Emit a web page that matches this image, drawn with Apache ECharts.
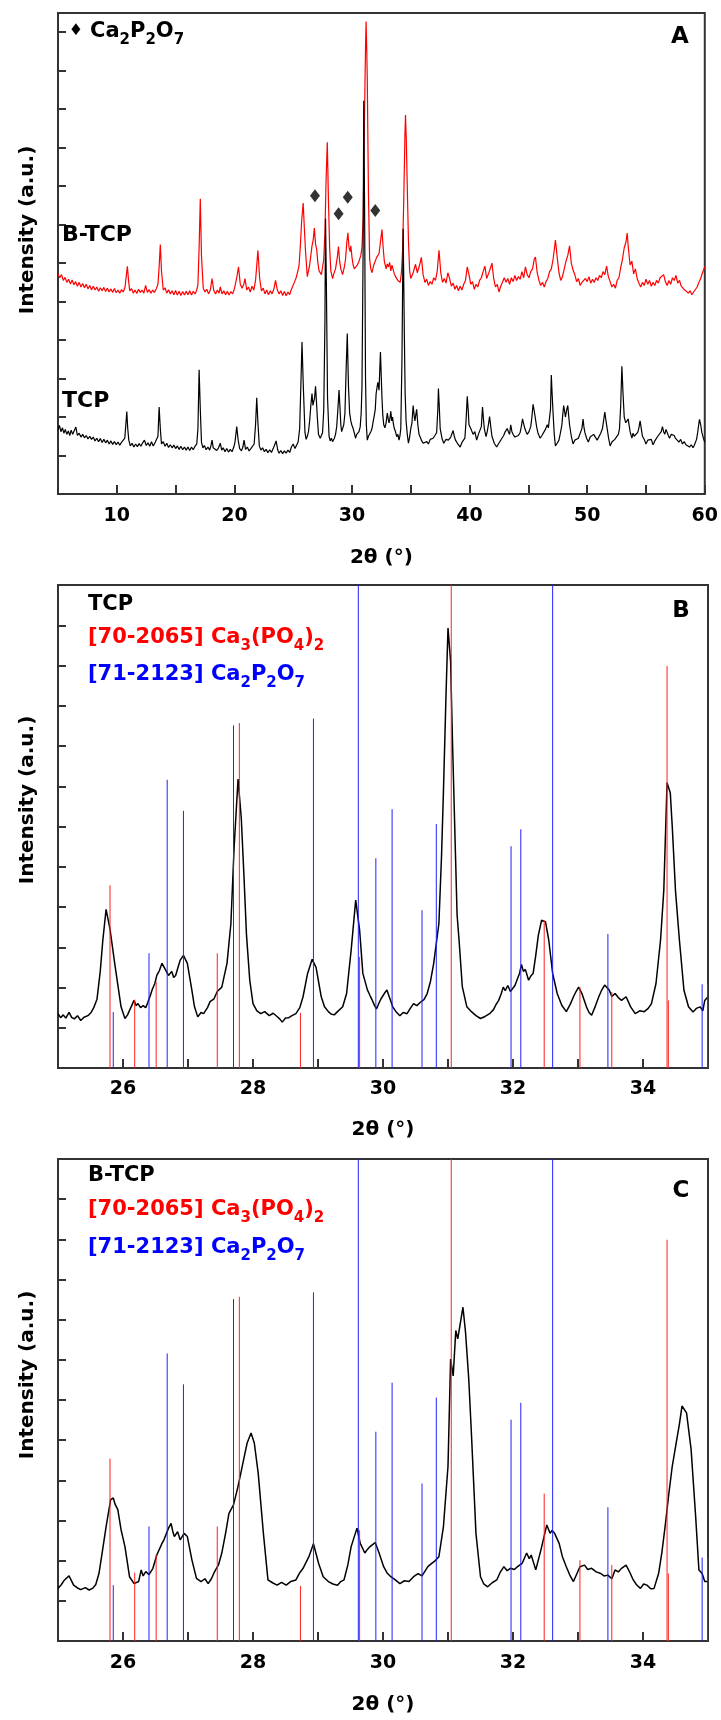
<!DOCTYPE html>
<html><head><meta charset="utf-8">
<script src="https://cdn.jsdelivr.net/npm/echarts@6/dist/echarts.min.js"></script>
<style>html,body{margin:0;padding:0;background:#fff}#c{width:721px;height:1720px}</style>
</head><body><div id="c"></div>
<script>
// ---------- DATA ----------
// Panel A: full patterns (2θ, intensity in axis units; B-TCP is offset upward)
const patternA_BTCP = [[5.0,5.72],[5.15,5.62],[5.3,5.70],[5.45,5.55],[5.6,5.63],[5.75,5.50],[5.9,5.58],[6.05,5.46],[6.2,5.56],[6.35,5.44],[6.5,5.52],[6.65,5.40],[6.8,5.50],[6.95,5.38],[7.1,5.47],[7.25,5.36],[7.4,5.45],[7.55,5.33],[7.7,5.42],[7.85,5.31],[8.0,5.40],[8.15,5.30],[8.3,5.38],[8.45,5.27],[8.6,5.36],[8.75,5.28],[8.9,5.37],[9.05,5.26],[9.2,5.35],[9.35,5.25],[9.5,5.33],[9.65,5.24],[9.8,5.34],[9.95,5.23],[10.1,5.30],[10.25,5.22],[10.4,5.31],[10.55,5.25],[10.7,5.38],[10.8,5.65],[10.9,5.92],[11.0,5.55],[11.1,5.28],[11.25,5.34],[11.4,5.22],[11.55,5.30],[11.7,5.21],[11.85,5.32],[12.0,5.24],[12.15,5.30],[12.3,5.22],[12.45,5.42],[12.6,5.24],[12.75,5.31],[12.9,5.22],[13.05,5.30],[13.2,5.24],[13.35,5.33],[13.5,5.45],[13.6,5.90],[13.7,6.48],[13.8,5.80],[13.95,5.30],[14.1,5.36],[14.25,5.22],[14.4,5.31],[14.55,5.20],[14.7,5.28],[14.85,5.18],[15.0,5.29],[15.15,5.17],[15.3,5.27],[15.45,5.16],[15.6,5.26],[15.75,5.17],[15.9,5.27],[16.05,5.18],[16.2,5.28],[16.35,5.17],[16.5,5.27],[16.65,5.20],[16.8,5.30],[16.9,5.45],[17.0,6.40],[17.1,7.67],[17.2,6.20],[17.35,5.35],[17.5,5.25],[17.65,5.32],[17.8,5.20],[17.95,5.30],[18.1,5.60],[18.25,5.28],[18.4,5.20],[18.55,5.30],[18.7,5.22],[18.8,5.38],[18.95,5.20],[19.1,5.28],[19.25,5.18],[19.4,5.27],[19.55,5.17],[19.7,5.26],[19.85,5.20],[20.0,5.33],[20.2,5.62],[20.35,5.90],[20.5,5.45],[20.65,5.35],[20.8,5.45],[20.9,5.60],[21.05,5.30],[21.2,5.38],[21.35,5.25],[21.5,5.40],[21.65,5.30],[21.8,5.55],[22.0,6.33],[22.15,5.60],[22.3,5.28],[22.45,5.35],[22.6,5.20],[22.75,5.30],[22.9,5.18],[23.05,5.28],[23.2,5.20],[23.35,5.32],[23.5,5.55],[23.65,5.30],[23.8,5.20],[23.95,5.28],[24.1,5.16],[24.25,5.26],[24.4,5.15],[24.55,5.25],[24.7,5.18],[24.85,5.32],[25.0,5.28],[25.1,5.50],[25.25,5.62],[25.4,5.80],[25.5,5.95],[25.6,6.40],[25.72,7.10],[25.85,7.56],[25.95,6.90],[26.05,6.30],[26.2,5.65],[26.3,5.80],[26.4,5.95],[26.5,6.20],[26.6,6.45],[26.7,6.60],[26.8,6.91],[26.9,6.50],[27.0,6.35],[27.1,6.00],[27.2,5.80],[27.3,5.85],[27.4,5.70],[27.5,5.90],[27.6,6.10],[27.7,6.80],[27.8,8.20],[27.9,9.14],[28.0,7.60],[28.1,6.40],[28.2,5.80],[28.35,5.60],[28.45,5.72],[28.6,5.85],[28.75,6.15],[28.85,6.43],[28.95,6.05],[29.05,5.85],[29.2,5.70],[29.35,5.90],[29.45,6.10],[29.55,6.50],[29.65,6.79],[29.75,6.40],[29.85,6.30],[29.9,6.45],[30.0,6.15],[30.1,5.95],[30.2,5.85],[30.3,5.80],[30.45,5.95],[30.6,6.05],[30.75,6.20],[30.85,6.40],[30.95,7.20],[31.05,9.50],[31.15,11.6],[31.2,12.28],[31.25,11.6],[31.3,10.8],[31.4,7.80],[31.5,6.10],[31.6,5.85],[31.7,5.75],[31.85,5.95],[31.95,6.00],[32.1,6.15],[32.2,6.10],[32.3,6.25],[32.4,6.30],[32.55,6.87],[32.65,6.40],[32.75,6.05],[32.9,5.85],[33.0,5.98],[33.1,5.90],[33.2,6.02],[33.3,5.80],[33.4,5.95],[33.5,5.90],[33.6,5.72],[33.7,5.65],[33.8,5.70],[33.9,5.55],[34.0,5.60],[34.1,5.50],[34.2,5.75],[34.3,6.30],[34.4,7.60],[34.5,9.30],[34.55,9.85],[34.62,9.20],[34.7,8.00],[34.8,6.60],[34.9,5.80],[35.0,5.60],[35.2,5.75],[35.4,5.97],[35.55,5.75],[35.75,5.95],[35.9,6.15],[36.05,5.70],[36.2,5.50],[36.35,5.58],[36.5,5.42],[36.65,5.52],[36.8,5.45],[36.95,5.62],[37.1,5.55],[37.25,5.80],[37.4,6.33],[37.55,5.75],[37.7,5.50],[37.85,5.60],[38.0,5.48],[38.15,5.75],[38.3,5.60],[38.45,5.40],[38.6,5.48],[38.75,5.32],[38.9,5.42],[39.05,5.28],[39.2,5.40],[39.35,5.30],[39.5,5.45],[39.65,5.55],[39.8,5.90],[39.95,5.70],[40.1,5.45],[40.25,5.52],[40.4,5.32],[40.55,5.45],[40.7,5.38],[40.85,5.55],[41.0,5.62],[41.15,5.78],[41.3,5.92],[41.45,5.60],[41.6,5.72],[41.75,5.85],[41.9,6.00],[42.05,5.60],[42.2,5.38],[42.35,5.45],[42.5,5.25],[42.65,5.40],[42.8,5.35],[42.95,5.62],[43.1,5.50],[43.25,5.60],[43.4,5.45],[43.55,5.62],[43.7,5.52],[43.85,5.68],[44.0,5.55],[44.15,5.65],[44.3,5.58],[44.45,5.78],[44.6,5.62],[44.75,5.90],[44.9,5.70],[45.05,5.62],[45.2,5.78],[45.35,5.85],[45.5,6.10],[45.6,6.16],[45.75,5.75],[45.9,5.55],[46.05,5.42],[46.2,5.50],[46.35,5.38],[46.5,5.52],[46.65,5.60],[46.8,5.78],[46.95,5.85],[47.1,6.10],[47.3,6.60],[47.45,6.15],[47.6,5.75],[47.75,5.55],[47.9,5.65],[48.05,5.85],[48.2,6.05],[48.35,6.20],[48.5,6.45],[48.65,6.00],[48.8,5.82],[48.95,5.70],[49.1,5.52],[49.25,5.60],[49.4,5.42],[49.55,5.50],[49.7,5.45],[49.85,5.60],[50.0,5.52],[50.15,5.65],[50.3,5.48],[50.45,5.58],[50.6,5.50],[50.75,5.62],[50.9,5.55],[51.05,5.68],[51.2,5.62],[51.35,5.78],[51.5,5.70],[51.65,5.92],[51.8,5.65],[51.95,5.52],[52.1,5.38],[52.25,5.45],[52.4,5.35],[52.55,5.55],[52.7,5.62],[52.85,5.88],[53.0,6.10],[53.15,6.40],[53.3,6.55],[53.4,6.78],[53.5,6.40],[53.65,5.95],[53.8,6.05],[53.95,5.72],[54.1,5.85],[54.25,5.60],[54.4,5.48],[54.55,5.38],[54.7,5.50],[54.85,5.42],[55.0,5.58],[55.15,5.45],[55.3,5.55],[55.45,5.40],[55.6,5.50],[55.75,5.42],[55.9,5.55],[56.05,5.48],[56.2,5.62],[56.35,5.58],[56.5,5.70],[56.65,5.52],[56.8,5.42],[56.95,5.55],[57.1,5.45],[57.25,5.62],[57.4,5.55],[57.55,5.68],[57.7,5.48],[57.85,5.55],[58.0,5.40],[58.15,5.45],[58.3,5.30],[58.45,5.35],[58.6,5.22],[58.75,5.28],[58.9,5.18],[59.05,5.25],[59.2,5.30],[59.35,5.38],[59.5,5.50],[59.65,5.60],[59.8,5.75],[60.0,5.90]];
const patternA_TCP = [[5.0,1.66],[5.12,1.78],[5.25,1.62],[5.38,1.72],[5.5,1.58],[5.62,1.68],[5.75,1.55],[5.88,1.64],[6.0,1.52],[6.12,1.66],[6.25,1.55],[6.4,1.60],[6.52,1.74],[6.65,1.52],[6.8,1.58],[6.95,1.48],[7.1,1.55],[7.25,1.46],[7.4,1.52],[7.55,1.43],[7.7,1.50],[7.85,1.42],[8.0,1.48],[8.15,1.38],[8.3,1.45],[8.45,1.36],[8.6,1.44],[8.75,1.34],[8.9,1.42],[9.05,1.33],[9.2,1.40],[9.35,1.30],[9.5,1.38],[9.65,1.29],[9.8,1.36],[9.95,1.28],[10.1,1.35],[10.25,1.27],[10.4,1.34],[10.55,1.30],[10.68,1.45],[10.78,1.85],[10.85,2.14],[10.93,1.70],[11.02,1.40],[11.15,1.25],[11.3,1.32],[11.45,1.22],[11.6,1.30],[11.75,1.23],[11.9,1.31],[12.05,1.24],[12.2,1.33],[12.35,1.40],[12.5,1.26],[12.65,1.33],[12.8,1.24],[12.95,1.36],[13.1,1.25],[13.25,1.33],[13.4,1.28],[13.5,1.50],[13.6,2.26],[13.7,1.70],[13.8,1.30],[13.95,1.36],[14.1,1.24],[14.25,1.32],[14.4,1.21],[14.55,1.28],[14.7,1.20],[14.85,1.27],[15.0,1.18],[15.15,1.25],[15.3,1.16],[15.45,1.24],[15.6,1.15],[15.75,1.22],[15.9,1.14],[16.05,1.22],[16.2,1.13],[16.35,1.22],[16.5,1.15],[16.65,1.24],[16.8,1.30],[16.9,1.70],[17.0,3.23],[17.1,2.20],[17.2,1.35],[17.32,1.20],[17.45,1.26],[17.6,1.15],[17.75,1.22],[17.9,1.14],[18.0,1.25],[18.1,1.40],[18.2,1.20],[18.35,1.25],[18.5,1.13],[18.65,1.20],[18.8,1.32],[18.92,1.14],[19.05,1.20],[19.2,1.10],[19.35,1.18],[19.5,1.09],[19.65,1.16],[19.8,1.10],[19.95,1.22],[20.05,1.35],[20.2,1.75],[20.32,1.40],[20.45,1.18],[20.6,1.12],[20.72,1.22],[20.82,1.40],[20.95,1.16],[21.1,1.22],[21.25,1.12],[21.4,1.18],[21.55,1.14],[21.68,1.30],[21.8,1.80],[21.9,2.50],[22.0,1.85],[22.12,1.25],[22.25,1.14],[22.4,1.20],[22.55,1.10],[22.7,1.16],[22.85,1.07],[23.0,1.15],[23.15,1.08],[23.3,1.18],[23.45,1.30],[23.55,1.38],[23.68,1.15],[23.8,1.06],[23.95,1.13],[24.1,1.05],[24.25,1.12],[24.4,1.06],[24.55,1.14],[24.7,1.08],[24.85,1.22],[25.0,1.30],[25.15,1.18],[25.3,1.22],[25.42,1.35],[25.55,1.70],[25.65,2.80],[25.75,3.95],[25.85,2.90],[26.0,1.60],[26.1,1.42],[26.2,1.50],[26.3,1.62],[26.4,1.90],[26.5,2.30],[26.6,2.61],[26.68,2.30],[26.75,2.35],[26.82,2.50],[26.9,2.80],[26.97,2.45],[27.05,2.00],[27.15,1.55],[27.3,1.45],[27.4,1.52],[27.5,1.60],[27.6,2.20],[27.7,4.50],[27.75,7.15],[27.82,5.50],[27.92,2.50],[28.05,1.50],[28.15,1.38],[28.25,1.45],[28.35,1.36],[28.5,1.45],[28.6,1.55],[28.7,1.75],[28.8,2.20],[28.9,2.70],[28.97,2.30],[29.05,1.80],[29.12,1.62],[29.2,1.70],[29.3,1.80],[29.4,2.10],[29.5,3.20],[29.6,4.17],[29.7,2.80],[29.8,2.10],[29.9,1.90],[30.0,1.78],[30.1,1.70],[30.2,1.58],[30.3,1.45],[30.4,1.55],[30.5,1.50],[30.6,1.62],[30.7,1.75],[30.78,2.10],[30.85,2.80],[30.95,6.50],[31.0,10.22],[31.07,7.50],[31.15,3.00],[31.22,1.80],[31.3,1.40],[31.4,1.50],[31.5,1.55],[31.6,1.62],[31.7,1.70],[31.8,1.88],[31.9,2.05],[31.98,2.20],[32.05,2.60],[32.12,2.75],[32.2,2.90],[32.3,2.70],[32.42,3.69],[32.55,2.50],[32.62,2.05],[32.7,1.80],[32.8,1.72],[32.9,1.85],[33.0,2.10],[33.08,1.95],[33.15,1.85],[33.22,1.95],[33.3,2.15],[33.38,1.90],[33.45,2.00],[33.52,1.82],[33.6,1.70],[33.7,1.62],[33.8,1.49],[33.9,1.55],[34.0,1.40],[34.08,1.52],[34.15,1.70],[34.25,3.50],[34.35,6.89],[34.45,4.20],[34.52,2.60],[34.6,1.90],[34.7,1.55],[34.8,1.32],[34.9,1.48],[35.0,1.70],[35.1,1.85],[35.2,2.30],[35.28,2.05],[35.35,1.90],[35.42,2.05],[35.5,2.20],[35.6,1.80],[35.7,1.55],[35.8,1.48],[35.9,1.40],[36.05,1.32],[36.2,1.28],[36.35,1.36],[36.5,1.30],[36.65,1.42],[36.8,1.38],[36.9,1.45],[37.05,1.52],[37.2,1.60],[37.3,2.20],[37.35,2.74],[37.42,2.30],[37.5,1.70],[37.65,1.45],[37.8,1.32],[38.0,1.42],[38.2,1.40],[38.4,1.48],[38.6,1.65],[38.7,1.50],[38.8,1.40],[39.0,1.30],[39.2,1.22],[39.35,1.34],[39.5,1.30],[39.6,1.45],[39.7,1.90],[39.8,2.54],[39.88,2.20],[39.95,1.80],[40.1,1.70],[40.3,1.55],[40.45,1.62],[40.6,1.40],[40.75,1.55],[40.9,1.50],[41.0,1.75],[41.1,2.26],[41.18,1.95],[41.25,1.70],[41.4,1.49],[41.5,1.62],[41.6,1.80],[41.7,2.01],[41.8,1.75],[41.9,1.50],[42.1,1.32],[42.3,1.22],[42.45,1.30],[42.6,1.35],[42.75,1.45],[42.9,1.52],[43.0,1.60],[43.1,1.55],[43.2,1.70],[43.3,1.62],[43.4,1.55],[43.5,1.80],[43.6,1.62],[43.7,1.55],[43.85,1.48],[44.0,1.45],[44.15,1.52],[44.3,1.60],[44.4,1.75],[44.5,1.95],[44.6,1.82],[44.7,1.70],[44.8,1.62],[44.9,1.55],[45.05,1.62],[45.2,1.75],[45.3,2.00],[45.4,2.33],[45.5,2.15],[45.6,1.95],[45.7,1.75],[45.8,1.60],[45.9,1.52],[46.0,1.45],[46.15,1.52],[46.3,1.55],[46.45,1.68],[46.6,1.80],[46.7,1.72],[46.8,1.70],[46.88,2.20],[46.95,3.09],[47.02,2.60],[47.1,2.10],[47.2,1.55],[47.3,1.25],[47.45,1.32],[47.6,1.40],[47.72,1.58],[47.85,1.80],[47.92,2.05],[48.0,2.30],[48.08,2.15],[48.15,2.00],[48.25,2.18],[48.35,2.30],[48.42,2.05],[48.5,1.80],[48.65,1.50],[48.8,1.30],[48.95,1.40],[49.1,1.35],[49.25,1.45],[49.4,1.50],[49.55,1.70],[49.65,1.95],[49.72,1.75],[49.8,1.60],[49.95,1.45],[50.1,1.35],[50.25,1.48],[50.4,1.45],[50.55,1.55],[50.7,1.50],[50.85,1.40],[51.0,1.45],[51.15,1.58],[51.3,1.70],[51.4,1.92],[51.5,2.13],[51.6,1.90],[51.7,1.70],[51.82,1.45],[51.95,1.25],[52.1,1.35],[52.2,1.30],[52.35,1.42],[52.5,1.40],[52.65,1.55],[52.75,1.70],[52.85,2.30],[52.95,3.32],[53.05,2.60],[53.15,2.00],[53.28,1.85],[53.4,1.80],[53.48,1.95],[53.55,1.92],[53.65,1.62],[53.8,1.45],[53.9,1.58],[54.0,1.50],[54.15,1.55],[54.3,1.60],[54.4,1.72],[54.5,1.90],[54.6,1.70],[54.7,1.50],[54.85,1.42],[55.0,1.30],[55.15,1.40],[55.3,1.35],[55.45,1.42],[55.6,1.28],[55.75,1.38],[55.9,1.40],[56.05,1.52],[56.2,1.55],[56.3,1.62],[56.4,1.75],[56.5,1.62],[56.6,1.55],[56.7,1.68],[56.8,1.65],[56.9,1.52],[57.0,1.45],[57.15,1.55],[57.3,1.60],[57.4,1.52],[57.5,1.45],[57.65,1.40],[57.8,1.35],[57.95,1.42],[58.1,1.30],[58.25,1.36],[58.4,1.28],[58.55,1.33],[58.7,1.22],[58.85,1.28],[59.0,1.20],[59.1,1.26],[59.2,1.30],[59.3,1.42],[59.4,1.60],[59.48,1.80],[59.55,1.94],[59.65,1.80],[59.75,1.60],[59.88,1.45],[60.0,1.35]];
// Ca2P2O7 markers in panel A
const diamondMarks = [[26.85,7.75],[28.86,7.28],[29.64,7.71],[31.98,7.37]];

// Panel B: TCP, 25-35°
const patternB_TCP = [[25.0,1.35],[25.04,1.25],[25.08,1.32],[25.12,1.24],[25.17,1.38],[25.21,1.26],[25.25,1.22],[25.3,1.30],[25.35,1.18],[25.4,1.26],[25.46,1.30],[25.51,1.38],[25.55,1.50],[25.6,1.71],[25.65,2.40],[25.69,3.18],[25.74,3.94],[25.8,3.45],[25.88,2.51],[25.97,1.52],[26.03,1.23],[26.07,1.32],[26.1,1.28],[26.17,1.68],[26.2,1.55],[26.23,1.60],[26.27,1.50],[26.31,1.55],[26.35,1.50],[26.38,1.62],[26.42,1.80],[26.45,1.95],[26.49,2.10],[26.52,2.30],[26.56,2.42],[26.6,2.60],[26.65,2.45],[26.7,2.30],[26.75,2.40],[26.78,2.25],[26.81,2.30],[26.85,2.52],[26.88,2.68],[26.93,2.80],[26.99,2.60],[27.06,1.93],[27.1,1.52],[27.15,1.27],[27.2,1.38],[27.24,1.35],[27.3,1.50],[27.34,1.65],[27.4,1.72],[27.45,1.90],[27.52,2.01],[27.6,2.60],[27.66,3.59],[27.71,5.50],[27.77,7.18],[27.82,6.20],[27.86,4.80],[27.9,3.30],[27.95,2.18],[28.0,1.60],[28.06,1.42],[28.12,1.35],[28.18,1.40],[28.25,1.30],[28.31,1.36],[28.37,1.28],[28.41,1.22],[28.45,1.14],[28.5,1.24],[28.55,1.25],[28.6,1.30],[28.66,1.35],[28.72,1.50],[28.77,1.77],[28.84,2.35],[28.91,2.70],[28.97,2.50],[29.05,1.77],[29.1,1.52],[29.16,1.40],[29.2,1.34],[29.25,1.32],[29.3,1.40],[29.33,1.36],[29.38,1.52],[29.44,1.85],[29.51,2.93],[29.58,4.17],[29.64,3.43],[29.69,2.35],[29.76,1.94],[29.8,1.80],[29.83,1.70],[29.87,1.55],[29.9,1.47],[29.94,1.62],[29.97,1.72],[30.02,1.85],[30.06,1.94],[30.1,1.75],[30.15,1.52],[30.2,1.40],[30.26,1.30],[30.31,1.38],[30.37,1.35],[30.42,1.48],[30.47,1.60],[30.52,1.55],[30.58,1.64],[30.63,1.70],[30.68,1.85],[30.73,2.15],[30.78,2.60],[30.86,3.59],[30.9,5.25],[30.93,6.87],[30.97,9.30],[31.0,10.93],[31.04,10.10],[31.07,8.06],[31.11,5.60],[31.14,3.80],[31.17,3.18],[31.22,2.02],[31.29,1.52],[31.36,1.40],[31.43,1.30],[31.5,1.23],[31.57,1.28],[31.64,1.35],[31.7,1.45],[31.74,1.58],[31.78,1.68],[31.82,1.85],[31.85,2.01],[31.88,1.92],[31.92,2.05],[31.96,1.90],[31.99,1.93],[32.03,2.05],[32.06,2.18],[32.1,2.35],[32.13,2.57],[32.16,2.40],[32.19,2.45],[32.24,2.18],[32.28,2.30],[32.31,2.35],[32.35,2.80],[32.39,3.30],[32.44,3.67],[32.5,3.63],[32.55,3.18],[32.61,2.35],[32.68,1.85],[32.75,1.56],[32.82,1.40],[32.88,1.58],[32.93,1.77],[32.97,1.90],[33.01,2.01],[33.06,1.85],[33.13,1.52],[33.17,1.38],[33.21,1.31],[33.27,1.55],[33.32,1.77],[33.36,1.92],[33.41,2.06],[33.48,1.94],[33.52,1.78],[33.57,1.85],[33.62,1.75],[33.67,1.68],[33.74,1.77],[33.81,1.52],[33.88,1.35],[33.95,1.42],[34.02,1.40],[34.08,1.48],[34.13,1.60],[34.2,2.10],[34.27,3.18],[34.32,4.42],[34.37,7.09],[34.42,6.83],[34.45,6.00],[34.5,4.40],[34.56,3.18],[34.63,1.93],[34.7,1.52],[34.77,1.39],[34.82,1.48],[34.88,1.52],[34.92,1.42],[34.95,1.68],[35.0,1.77]];
// Panel C: B-TCP, 25-35°
const patternC_BTCP = [[25.0,1.31],[25.05,1.40],[25.1,1.52],[25.17,1.62],[25.24,1.39],[25.3,1.32],[25.35,1.28],[25.42,1.33],[25.48,1.27],[25.53,1.31],[25.58,1.40],[25.63,1.68],[25.68,2.20],[25.74,2.85],[25.81,3.52],[25.85,3.56],[25.88,3.40],[25.92,3.27],[25.97,2.77],[26.03,2.35],[26.1,1.60],[26.17,1.43],[26.24,1.48],[26.28,1.77],[26.31,1.62],[26.35,1.73],[26.4,1.65],[26.46,1.81],[26.52,2.14],[26.6,2.43],[26.63,2.52],[26.7,2.81],[26.74,2.93],[26.77,2.70],[26.79,2.60],[26.84,2.72],[26.88,2.52],[26.94,2.68],[26.99,2.60],[27.06,2.02],[27.13,1.56],[27.2,1.48],[27.26,1.55],[27.31,1.43],[27.36,1.55],[27.41,1.73],[27.47,1.90],[27.52,2.19],[27.58,2.70],[27.63,3.18],[27.7,3.39],[27.77,3.85],[27.84,4.39],[27.88,4.70],[27.91,4.93],[27.97,5.18],[28.02,4.93],[28.08,4.18],[28.16,2.68],[28.23,1.52],[28.3,1.45],[28.37,1.39],[28.44,1.46],[28.51,1.39],[28.58,1.48],[28.66,1.52],[28.72,1.70],[28.77,1.81],[28.86,2.10],[28.93,2.42],[29.01,1.93],[29.08,1.60],[29.16,1.48],[29.23,1.42],[29.3,1.39],[29.35,1.48],[29.4,1.52],[29.46,1.90],[29.51,2.35],[29.6,2.81],[29.65,2.43],[29.72,2.19],[29.76,2.28],[29.8,2.35],[29.88,2.45],[29.94,2.19],[30.01,1.85],[30.06,1.70],[30.12,1.60],[30.19,1.52],[30.26,1.43],[30.33,1.50],[30.4,1.48],[30.47,1.60],[30.54,1.68],[30.6,1.62],[30.69,1.85],[30.74,1.92],[30.79,1.98],[30.86,2.10],[30.93,2.85],[31.0,4.35],[31.04,7.02],[31.08,6.60],[31.12,7.73],[31.15,7.52],[31.23,8.31],[31.27,7.68],[31.32,6.50],[31.36,5.18],[31.43,2.68],[31.5,1.60],[31.55,1.42],[31.61,1.35],[31.68,1.45],[31.75,1.52],[31.8,1.70],[31.86,1.85],[31.91,1.75],[31.96,1.81],[32.02,1.78],[32.07,1.85],[32.14,1.93],[32.21,2.19],[32.25,2.05],[32.28,2.14],[32.35,1.77],[32.43,2.27],[32.52,2.89],[32.57,2.68],[32.6,2.75],[32.64,2.68],[32.71,2.43],[32.76,2.10],[32.82,1.85],[32.88,1.62],[32.93,1.48],[33.03,1.85],[33.1,1.89],[33.15,1.78],[33.21,1.81],[33.28,1.72],[33.35,1.68],[33.4,1.62],[33.46,1.64],[33.52,1.55],[33.57,1.77],[33.62,1.72],[33.67,1.81],[33.74,1.89],[33.8,1.70],[33.85,1.52],[33.9,1.40],[33.96,1.31],[34.01,1.42],[34.06,1.39],[34.12,1.30],[34.17,1.31],[34.24,1.68],[34.29,2.20],[34.34,2.85],[34.4,3.70],[34.45,4.35],[34.52,5.02],[34.56,5.40],[34.6,5.85],[34.67,5.68],[34.74,4.77],[34.81,3.10],[34.86,1.77],[34.91,1.68],[34.95,1.48],[35.0,1.48]];
// Reference sticks (2θ, relative height in axis units)
const refCa3PO42 = [[25.80,4.54],[26.18,1.70],[26.51,2.14],[27.45,2.85],[27.79,8.57],[28.73,1.37],[29.64,2.76],[31.05,12],[32.48,3.67],[33.03,2.01],[33.52,1.89],[34.37,9.99],[34.39,1.68],[35.0,2.08]];
const refCa2P2O7 = [[25.85,1.39],[26.40,2.85],[26.68,7.16],[26.93,6.39],[27.70,8.51],[28.93,8.68],[29.62,12],[29.89,5.21],[30.14,6.43],[30.60,3.92],[30.82,6.06],[31.97,5.51],[32.12,5.93],[32.61,12],[33.46,3.33],[34.91,2.08]];
// Axis settings / texts
const xRangeA = [5, 60], xRangeBC = [25, 35];
const xLabelA = 10, xLabelBC = 2;
const xTitle = '2θ (°)', yTitle = 'Intensity (a.u.)';

// ---------- CHART ----------
const FF = 'DejaVu Sans';
const AX = '#333';
const chart = echarts.init(document.getElementById('c'), null, {renderer: 'canvas'});

function xAxisDef(gi, range, step, labelEvery, margin, gap) {
  return {
    type: 'value', gridIndex: gi, min: range[0], max: range[1], interval: step,
    axisLine: {show: true, lineStyle: {color: AX, width: 2}},
    axisTick: {show: true, inside: true, length: 9, lineStyle: {color: AX, width: 2}},
    axisLabel: {show: true, margin: margin, color: '#000', fontFamily: FF, fontWeight: 'bold', fontSize: 19,
      showMinLabel: true, showMaxLabel: true,
      formatter: v => (Math.abs(v % labelEvery) < 1e-9 ? String(v) : '')},
    splitLine: {show: false},
    name: xTitle, nameLocation: 'middle', nameGap: gap,
    nameTextStyle: {color: '#000', fontFamily: FF, fontWeight: 'bold', fontSize: 20}
  };
}
function yAxisDef(gi, max) {
  return {
    type: 'value', gridIndex: gi, min: 0, max: max, interval: 1,
    axisLine: {show: true, lineStyle: {color: AX, width: 2}},
    axisTick: {show: true, inside: true, length: 8, lineStyle: {color: AX, width: 2}},
    axisLabel: {show: false}, splitLine: {show: false}
  };
}
function stickSeries(data, color, gi) {
  return {
    type: 'custom', xAxisIndex: gi, yAxisIndex: gi, data: data, z: 5, clip: true, silent: true,
    renderItem: function (params, api) {
      const p0 = api.coord([api.value(0), 0]);
      const p1 = api.coord([api.value(0), api.value(1)]);
      return {type: 'line', shape: {x1: p0[0], y1: p0[1], x2: p1[0], y2: p1[1]},
        style: {stroke: color, lineWidth: 1}};
    }
  };
}
function lineSeries(data, color, gi, w, z) {
  return {type: 'line', xAxisIndex: gi, yAxisIndex: gi, data: data, showSymbol: false, symbol: 'none',
    lineStyle: {color: color, width: w}, z: z, silent: true, animation: false, clip: true};
}

function richStyle(color) {
  return {
    n: {fontFamily: FF, fontWeight: 'bold', fontSize: 21, verticalAlign: 'top', fill: color, color: color},
    s: {fontFamily: FF, fontWeight: 'bold', fontSize: 15, verticalAlign: 'top', padding: [11, 0, 0, 0], fill: color, color: color}
  };
}
function richText(x, y, str, color) {
  return {type: 'text', x: x, y: y, z: 100,
    style: {text: str, rich: richStyle(color), fill: color, align: 'left', verticalAlign: 'top',
      font: 'bold 21px ' + FF}};
}
function plainText(x, y, str, size, align, valign, rot) {
  return {type: 'text', x: x, y: y, rotation: rot || 0, z: 100,
    style: {text: str, fill: '#000', font: 'bold ' + size + 'px ' + FF, align: align, verticalAlign: valign}};
}
const f_Ca2P2O7 = '{n|Ca}{s|2}{n|P}{s|2}{n|O}{s|7}';

const option = {
  animation: false,
  backgroundColor: '#fff',
  grid: [
    {left: 58, top: 13, width: 650, height: 481, show: true, borderColor: AX, borderWidth: 2, backgroundColor: 'transparent'},
    {left: 58, top: 585, width: 650, height: 483, show: true, borderColor: AX, borderWidth: 2, backgroundColor: 'transparent'},
    {left: 58, top: 1159, width: 650, height: 482, show: true, borderColor: AX, borderWidth: 2, backgroundColor: 'transparent'}
  ],
  xAxis: [
    xAxisDef(0, xRangeA, 5, xLabelA, 13, 54),
    xAxisDef(1, xRangeBC, 1, xLabelBC, 12, 52),
    xAxisDef(2, xRangeBC, 1, xLabelBC, 13, 54)
  ],
  yAxis: [yAxisDef(0, 12.5), yAxisDef(1, 12), yAxisDef(2, 12)],
  series: [
    lineSeries(patternA_BTCP, '#ff0000', 0, 1.2, 2),
    lineSeries(patternA_TCP, '#000000', 0, 1.2, 3),
    {type: 'scatter', xAxisIndex: 0, yAxisIndex: 0, data: diamondMarks, symbol: 'diamond', symbolSize: [10, 13],
      itemStyle: {color: '#000'}, z: 6, silent: true},
    lineSeries(patternB_TCP, '#000000', 1, 1.5, 2),
    stickSeries(refCa3PO42, '#ff2020', 1),
    stickSeries(refCa2P2O7, '#2020ff', 1),
    lineSeries(patternC_BTCP, '#000000', 2, 1.5, 2),
    stickSeries(refCa3PO42, '#ff2020', 2),
    stickSeries(refCa2P2O7, '#2020ff', 2)
  ],
  graphic: [
    // Panel A
    plainText(76, 31, '♦', 16, 'center', 'middle'),
    richText(90, 21.5, f_Ca2P2O7, '#000'),
    plainText(680, 37.5, 'A', 23, 'center', 'middle'),
    plainText(62, 224.5, 'B-TCP', 22, 'left', 'top'),
    plainText(62, 390.5, 'TCP', 22, 'left', 'top'),
    plainText(28, 230, yTitle, 20, 'center', 'middle', Math.PI / 2),
    // Panel B
    plainText(88, 594.5, 'TCP', 21, 'left', 'top'),
    richText(88, 627.5, '{n|[70-2065] Ca}{s|3}{n|(PO}{s|4}{n|)}{s|2}', '#ff0000'),
    richText(88, 664.5, '{n|[71-2123] Ca}{s|2}{n|P}{s|2}{n|O}{s|7}', '#0000ff'),
    plainText(681, 611.5, 'B', 23, 'center', 'middle'),
    plainText(28, 800, yTitle, 20, 'center', 'middle', Math.PI / 2),
    // Panel C
    plainText(88, 1165.5, 'B-TCP', 21, 'left', 'top'),
    richText(88, 1199.5, '{n|[70-2065] Ca}{s|3}{n|(PO}{s|4}{n|)}{s|2}', '#ff0000'),
    richText(88, 1237.5, '{n|[71-2123] Ca}{s|2}{n|P}{s|2}{n|O}{s|7}', '#0000ff'),
    plainText(681, 1191.5, 'C', 23, 'center', 'middle'),
    plainText(28, 1375, yTitle, 20, 'center', 'middle', Math.PI / 2)
  ]
};
chart.setOption(option);
</script></body></html>
